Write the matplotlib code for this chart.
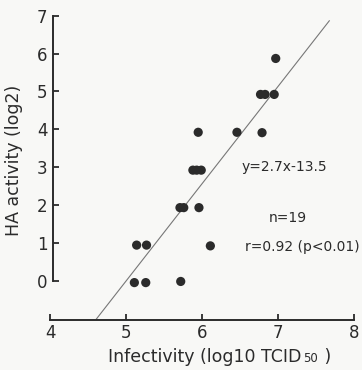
import matplotlib
matplotlib.use("Agg")
import matplotlib.pyplot as plt
from matplotlib.offsetbox import TextArea, HPacker, AnnotationBbox

# ---- data ----
infectivity = [5.11, 5.26, 5.72,
               5.14, 5.27, 6.11,
               5.71, 5.76, 5.96,
               5.88, 5.93, 5.99,
               5.95, 6.46, 6.79,
               6.77, 6.83, 6.95,
               6.97]
ha_activity = [-0.05, -0.05, -0.02,
               0.94, 0.94, 0.92,
               1.93, 1.93, 1.93,
               2.92, 2.92, 2.92,
               3.92, 3.92, 3.91,
               4.92, 4.92, 4.92,
               5.87]
fit_x = [4.61, 7.675]
fit_slope = 2.57
fit_intercept = -12.86
x_ticks = [4, 5, 6, 7, 8]
y_ticks = [0, 1, 2, 3, 4, 5, 6, 7]
eq_text = "y=2.7x-13.5"
n_text = "n=19"
r_text = "r=0.92 (p<0.01)"
xlabel_parts = ["Infectivity (log10 TCID", "50", " )"]
ylabel_text = "HA activity (log2)"

ink = "#2b2b2b"
bg = "#f8f8f6"
plt.rcParams['font.family'] = ['DejaVu Sans']

fig = plt.figure(figsize=(3.62, 3.70), dpi=100, facecolor=bg)
W, H = 362.0, 370.0
px_x = 76.0
px_y = 37.86
xlim = (3.9, 8.1)
ylim = (-1.1, 7.2)
x_at4 = 50.0
y_at0 = 280.7
left_px = x_at4 - (4 - xlim[0]) * px_x
bottom_px = y_at0 - ylim[0] * px_y
ax_w_px = (xlim[1] - xlim[0]) * px_x
ax_h_px = (ylim[1] - ylim[0]) * px_y
ax = fig.add_axes([left_px / W, (H - bottom_px) / H, ax_w_px / W, ax_h_px / H])
ax.set_facecolor(bg)
ax.set_xlim(*xlim)
ax.set_ylim(*ylim)

# regression line
fy = [fit_slope * x + fit_intercept for x in fit_x]
ax.plot(fit_x, fy, color="#777777", lw=0.8, zorder=2)

ax.scatter(infectivity, ha_activity, s=44, color=ink, edgecolors='none', zorder=3)

for s in ['top', 'right']:
    ax.spines[s].set_visible(False)
ax.spines['left'].set_position(('data', 4.04))
ax.spines['left'].set_bounds(0, 7)
ax.spines['bottom'].set_position(('data', -1.04))
ax.spines['bottom'].set_bounds(4, 8)
for s in ['left', 'bottom']:
    ax.spines[s].set_linewidth(1.4)
    ax.spines[s].set_color(ink)

ax.set_xticks(x_ticks)
ax.set_yticks(y_ticks)
ax.tick_params(direction='in', length=4, width=1.3, color=ink,
               labelcolor=ink, labelsize=12)
ax.tick_params(axis='x', pad=3)
ax.tick_params(axis='y', pad=4)

# x label with small "50" on the baseline
tp_big = dict(fontsize=12.5, color=ink)
tp_small = dict(fontsize=8.5, color=ink)
box = HPacker(children=[TextArea(xlabel_parts[0], textprops=tp_big),
                        TextArea(xlabel_parts[1], textprops=tp_small),
                        TextArea(xlabel_parts[2], textprops=tp_big)],
              align='baseline', pad=0, sep=1)
ab = AnnotationBbox(box, (219.5 / W, 1 - 357.5 / H), xycoords='figure fraction',
                    frameon=False, box_alignment=(0.5, 0.5), pad=0)
fig.add_artist(ab)

ax.set_ylabel(ylabel_text, fontsize=12.5, color=ink)
ax.yaxis.set_label_coords((23 - left_px) / ax_w_px, (bottom_px - 160) / ax_h_px)

ax.text(7.09, 3.0, eq_text, ha='center', va='center', fontsize=10, color=ink)
ax.text(7.13, 1.66, n_text, ha='center', va='center', fontsize=10, color=ink)
ax.text(7.32, 0.9, r_text, ha='center', va='center', fontsize=10, color=ink)

fig.savefig("out.png", dpi=100, facecolor=bg)
